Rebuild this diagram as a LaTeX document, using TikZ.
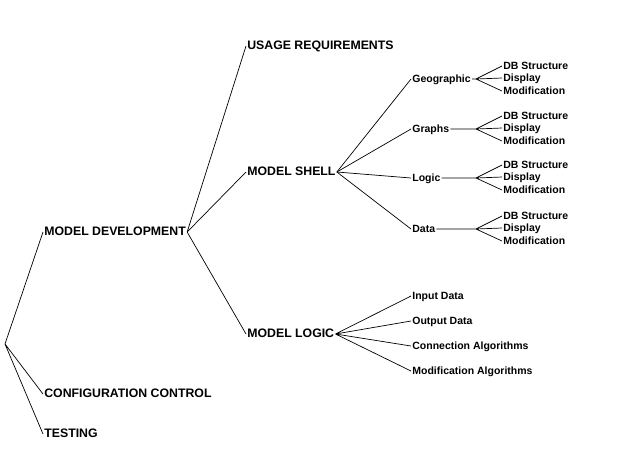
\documentclass[tikz,border=0pt]{standalone}
\usepackage{fontspec}
\setmainfont{Liberation Sans}
\usepackage{tikz}

\begin{document}
\begin{tikzpicture}
		[x=1pt,y=-1pt,line width=0.7pt,
		 b/.style= {anchor=west,inner sep=1pt,text height=1.6ex,text depth=0.3ex,font=\bfseries\fontsize{12.3}{13}\selectfont},
		 s/.style= {anchor=west,inner sep=1pt,text height=1.6ex,text depth=0.3ex,font=\bfseries\fontsize{10.5}{11}\selectfont}]

		\useasboundingbox (0,0) rectangle (640,475);

		% first level
		\coordinate (root) at (5,344);
		\node[b] (dev) at (43,232) {MODEL DEVELOPMENT};
		\node[b] (conf) at (43,394) {CONFIGURATION CONTROL};
		\node[b] (test) at (43,434) {TESTING};
		\draw (root) -- (dev.west) (root) -- (conf.west) (root) -- (test.west);

		% second level
		\node[b] (usage) at (246,46) {USAGE REQUIREMENTS};
		\node[b] (shell) at (246,172) {MODEL SHELL};
		\node[b] (logic) at (246,334) {MODEL LOGIC};
		\draw (dev.east) -- (usage.west) (dev.east) -- (shell.west) (dev.east) -- (logic.west);

		% model shell parts, each with its own fan
		\foreach \name/\txt/\y in {geo/Geographic/79, graph/Graphs/129, lgc/Logic/178, dat/Data/229}
		{
			\node[s] (\name) at (411,\y) {\txt};
			\coordinate (\name f) at (476,\y);
			\draw (shell.east) -- (\name.west) (\name.east) -- (\name f);
			\node[s] (\name1) at (502,\y-13) {DB Structure};
			\node[s] (\name2) at (502,\y-1) {Display};
			\node[s] (\name3) at (502,\y+12) {Modification};
			\draw (\name f) -- (\name1.west) (\name f) -- (\name2.west) (\name f) -- (\name3.west);
		}

		% model logic parts
		\node[s] (inp) at (411,296) {Input Data};
		\node[s] (outp) at (411,321) {Output Data};
		\node[s] (conn) at (411,346) {Connection Algorithms};
		\node[s] (modi) at (411,371) {Modification Algorithms};
		\draw (logic.east) -- (inp.west) (logic.east) -- (outp.west)
			(logic.east) -- (conn.west) (logic.east) -- (modi.west);

	\end{tikzpicture}
\end{document}
